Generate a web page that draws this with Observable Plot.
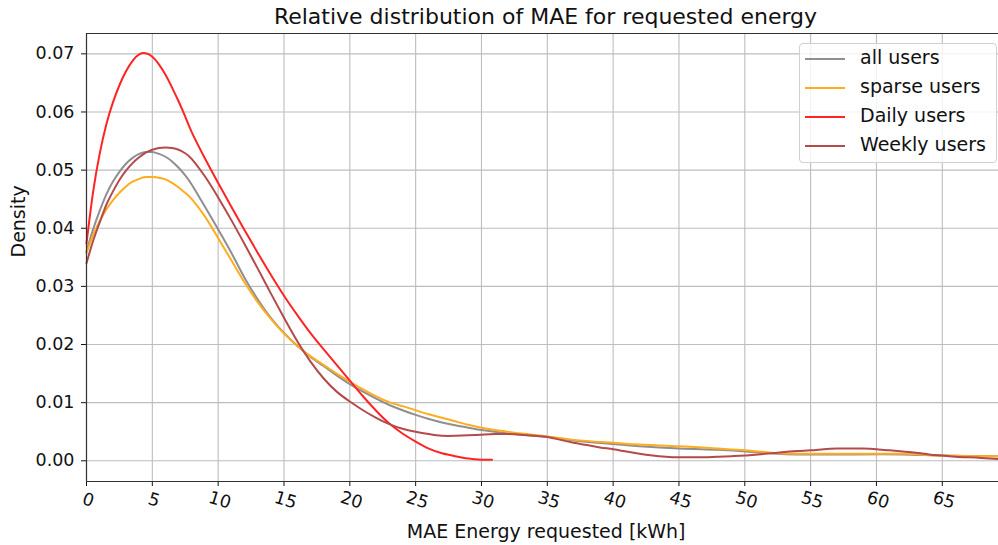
<!DOCTYPE html>
<html>
<head>
<meta charset="utf-8">
<script src="https://cdn.jsdelivr.net/npm/d3@7"></script>
<script src="https://cdn.jsdelivr.net/npm/@observablehq/plot@0.6"></script>
<style>
  html, body { margin: 0; padding: 0; background: #fff; overflow: hidden; }
  #wrap { position: relative; width: 998px; height: 545px; font-family: "DejaVu Sans", sans-serif; color: #111; }
  #title { position: absolute; left: 89.5px; width: 912px; top: 3.5px; text-align: center; font-size: 22px; line-height: normal; white-space: nowrap; }
  #legend { position: absolute; left: 799px; top: 43px; width: 198px; height: 120px; box-sizing: border-box;
            border: 1px solid #d0d0d0; border-radius: 4px; background: rgba(255,255,255,0.8); }
  .lg-line { position: absolute; left: 5px; width: 40px; height: 2px; }
  .lg-text { position: absolute; left: 60px; font-size: 19px; line-height: 22px; white-space: nowrap; }
  #chart svg { display: block; }
</style>
</head>
<body>
<div id="wrap">
  <div id="chart"></div>
  <div id="title"></div>
  <div id="legend"></div>
</div>
<script>
const chartTitle = "Relative distribution of MAE for requested energy";
const xLabel = "MAE Energy requested [kWh]";
const yLabel = "Density";

const seriesNames = ["all users", "sparse users", "Daily users", "Weekly users"];
const seriesColors = ["#8f8f8f", "#ffac1f", "#ff2424", "#b44a4a"];

const xTicks = [0, 5, 10, 15, 20, 25, 30, 35, 40, 45, 50, 55, 60, 65];
const yTicks = [0, 0.01, 0.02, 0.03, 0.04, 0.05, 0.06, 0.07];
const xDomain = [0, 69.27];
const yDomain = [-0.00356, 0.0735];

const allX = [0,0.5,1,1.5,2,2.5,3,3.5,4,4.5,5,5.5,6,6.5,7,7.5,8,9,10,11,12,13,14,15,16,17,18,19,20,21,22,23,24,25,26,27,28,29,30,31,32,33,35,37,40,42,45,48,50,52,54,58,62,65,69.3];
const allY = [0.0360,0.0398,0.0430,0.0458,0.0480,0.0497,0.0511,0.0521,0.0528,0.0531,0.0531,0.0528,0.0523,0.0515,0.0504,0.0491,0.0475,
  0.0437,0.0398,0.0358,0.0315,0.0278,0.0246,0.0220,0.0198,0.0179,0.0163,0.0147,0.0132,0.0119,0.0107,0.0096,0.0087,0.0079,0.0072,0.0066,0.0061,0.0057,0.0053,0.0050,0.0047,0.0045,
  0.0041,0.0035,0.0029,0.0025,0.0021,0.0019,0.0016,0.0013,0.0011,0.0011,0.0011,0.0009,0.0008];

const sparseX = [0,0.5,1,1.5,2,2.5,3,3.5,4,4.5,5,5.5,6,6.5,7,7.5,8,9,10,11,12,13,14,15,16,17,18,19,20,21,22,23,24,25,26,27,28,29,30,31,32,33,35,37,40,42,45,48,50,52,54,58,62,65,69.3];
const sparseY = [0.0357,0.0388,0.0412,0.0432,0.0448,0.0461,0.0472,0.0480,0.0485,0.0488,0.0488,0.0487,0.0484,0.0478,0.0470,0.0461,0.0450,
  0.0420,0.0383,0.0345,0.0307,0.0273,0.0244,0.0219,0.0198,0.0180,0.0165,0.0150,0.0136,0.0123,0.0111,0.0101,0.0094,0.0087,0.0080,0.0074,0.0068,0.0062,0.0057,0.0053,0.0050,0.0047,
  0.0042,0.0036,0.0031,0.0028,0.0025,0.0021,0.0018,0.0014,0.0012,0.0012,0.0012,0.0009,0.0008];

const dailyX = [0,0.5,1,1.5,2,2.5,3,3.5,4,4.5,5,5.5,6,6.5,7,7.5,8,9,10,11,12,13,14,15,16,17,18,19,20,21,22,23,24,25,26,27,28,29,30,30.8];
const dailyY = [0.0374,0.0462,0.0528,0.0578,0.0616,0.0646,0.0670,0.0688,0.0699,0.0701,0.0695,0.0682,0.0664,0.0642,0.0618,0.0592,0.0565,
  0.0520,0.0478,0.0437,0.0397,0.0358,0.0320,0.0284,0.0251,0.0220,0.0192,0.0165,0.0138,0.0111,0.0086,0.0064,0.0047,0.0033,0.0021,0.0013,0.0008,0.0004,0.0002,
  0.0002];

const weeklyX = [0,0.5,1,1.5,2,2.5,3,3.5,4,4.5,5,5.5,6,6.5,7,7.5,8,
  9,10,11,12,13,14,15,16,17,18,19,20,21,22,23,24,25,26,27,28,29,30,31,32,33,34,35,36,37,38,39,40,
  41,42,43,44,45,46,47,48,49,50,51,52,53,54,55,56,57,58,59,60,61,62,63,64,65,66,67,68,69.3];
const weeklyY = [0.0340,0.0378,0.0410,0.0440,0.0463,0.0483,0.0499,0.0512,0.0522,0.0530,0.0535,0.0538,0.0539,0.0538,0.0535,0.0529,0.0519,
  0.0489,0.0453,0.0414,0.0373,0.0331,0.0288,0.0246,0.0206,0.0171,0.0142,0.0119,0.0102,0.0087,0.0074,0.0063,0.0055,0.0050,0.0046,0.0043,0.0043,0.0044,0.0045,0.0046,0.0046,0.0045,0.0043,0.0041,0.0036,0.0031,0.0027,0.0023,0.0020,
  0.0016,0.0012,0.0009,0.0007,0.0006,0.0006,0.0006,0.0007,0.0008,0.0009,0.0011,0.0013,0.0015,0.0017,0.0018,0.0020,0.0021,0.0021,0.0021,0.0020,0.0018,0.0016,0.0014,0.0011,0.0009,0.0007,0.0006,0.0005,0.0003];

function rows(name, xs, ys) { return xs.map((x, i) => ({series: name, x, y: ys[i]})); }
const data = [
  ...rows(seriesNames[0], allX, allY),
  ...rows(seriesNames[1], sparseX, sparseY),
  ...rows(seriesNames[2], dailyX, dailyY),
  ...rows(seriesNames[3], weeklyX, weeklyY)
];

const plot = Plot.plot({
  width: 998,
  height: 545,
  marginLeft: 86,
  marginRight: 0,
  marginTop: 33,
  marginBottom: 64,
  style: {fontFamily: "DejaVu Sans, sans-serif", fontSize: "17.5px", color: "#111", background: "transparent", overflow: "visible"},
  x: {domain: xDomain, ticks: xTicks, tickFormat: () => "", tickSize: 5, label: null},
  y: {domain: yDomain, ticks: yTicks, tickFormat: d3.format(".2f"), tickSize: 5, tickPadding: 7, label: null},
  color: {domain: seriesNames, range: seriesColors},
  marks: [
    Plot.ruleX(xTicks, {stroke: "#bdbdbd", strokeWidth: 1.1}),
    Plot.ruleY(yTicks, {stroke: "#bdbdbd", strokeWidth: 1.1}),
    Plot.line(data, {x: "x", y: "y", z: "series", stroke: "series", strokeWidth: 2, curve: "natural"}),
    Plot.ruleX([xDomain[0]], {stroke: "#333", strokeWidth: 1.2}),
    Plot.ruleY([yDomain[0], yDomain[1]], {stroke: "#333", strokeWidth: 1.2}),
    Plot.text(xTicks, {x: d => d, text: d => String(d), frameAnchor: "bottom", dy: 24, rotate: 17, fontSize: 17.5, fill: "#111"}),
    Plot.text([xLabel], {text: d => d, frameAnchor: "bottom", dx: 3.7, dy: 56.7, lineAnchor: "bottom", fontSize: 19, fill: "#111"}),
    Plot.text([yLabel], {text: d => d, frameAnchor: "left", dx: -62, rotate: -90, lineAnchor: "bottom", fontSize: 19, fill: "#111"})
  ]
});
document.getElementById("chart").appendChild(plot);
document.getElementById("title").textContent = chartTitle;

const legend = document.getElementById("legend");
const entryCenters = [14.5, 43.6, 72.7, 101.8];
seriesNames.forEach((name, i) => {
  const line = document.createElement("div");
  line.className = "lg-line";
  line.style.top = (entryCenters[i] - 1) + "px";
  line.style.background = seriesColors[i];
  legend.appendChild(line);
  const t = document.createElement("div");
  t.className = "lg-text";
  t.style.top = (entryCenters[i] - 13) + "px";
  t.textContent = name;
  legend.appendChild(t);
});
</script>
</body>
</html>
